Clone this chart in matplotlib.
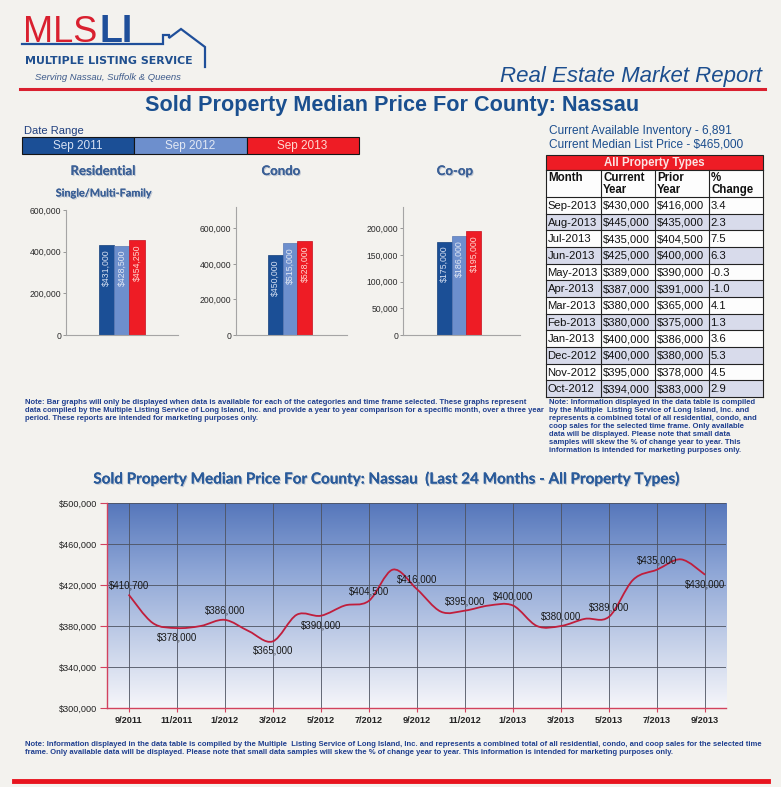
import matplotlib
matplotlib.use("Agg")
import matplotlib.pyplot as plt
import matplotlib.patheffects as pe
import numpy as np
from matplotlib import font_manager
from matplotlib.colors import LinearSegmentedColormap
from matplotlib.patches import Rectangle, PathPatch
from matplotlib.path import Path
from matplotlib.ticker import FuncFormatter

# ---- data ----
range_labels = ["Sep 2011", "Sep 2012", "Sep 2013"]
range_colors = ["#1b4f96", "#6d8fcd", "#ee1c25"]
range_text = ["#d6e0f2", "#e2e8f4", "#ffd9d2"]

residential = [431000, 428500, 454250]
condo = [450000, 515000, 528000]
coop = [175000, 186000, 195000]

inventory = 6891
median_list_price = 465000

table_months = ["Sep-2013", "Aug-2013", "Jul-2013", "Jun-2013", "May-2013", "Apr-2013",
                "Mar-2013", "Feb-2013", "Jan-2013", "Dec-2012", "Nov-2012", "Oct-2012"]
current_year = [430000, 445000, 435000, 425000, 389000, 387000,
                380000, 380000, 400000, 400000, 395000, 394000]
prior_year = [416000, 435000, 404500, 400000, 390000, 391000,
              365000, 375000, 386000, 380000, 378000, 383000]
pct_change = [3.4, 2.3, 7.5, 6.3, -0.3, -1.0, 4.1, 1.3, 3.6, 5.3, 4.5, 2.9]

line_months = ["9/2011", "10/2011", "11/2011", "12/2011", "1/2012", "2/2012", "3/2012",
               "4/2012", "5/2012", "6/2012", "7/2012", "8/2012", "9/2012", "10/2012",
               "11/2012", "12/2012", "1/2013", "2/2013", "3/2013", "4/2013", "5/2013",
               "6/2013", "7/2013", "8/2013", "9/2013"]
line_values = [410700, 383000, 378000, 380000, 386000, 375000, 365000,
               391000, 390000, 400000, 404500, 435000, 416000, 394000,
               395000, 400000, 400000, 380000, 380000, 387000, 389000,
               425000, 435000, 445000, 430000]
# label above (+1) or below (-1) for every second month
label_side = [1, -1, 1, -1, -1, 1, 1, 1, 1, 1, 1, 1, -1]

note_bars = ("Note: Bar graphs will only be displayed when data is available for each of the categories and time frame selected. These graphs represent\n"
             "data compiled by the Multiple Listing Service of Long Island, Inc. and provide a year to year comparison for a specific month, over a three year\n"
             "period. These reports are intended for marketing purposes only.")
note_table = ("Note: Information displayed in the data table is compiled\n"
              "by the Multiple  Listing Service of Long Island, Inc. and\n"
              "represents a combined total of all residential, condo, and\n"
              "coop sales for the selected time frame. Only available\n"
              "data will be displayed. Please note that small data\n"
              "samples will skew the % of change year to year. This\n"
              "information is intended for marketing purposes only.")
note_line = ("Note: Information displayed in the data table is compiled by the Multiple  Listing Service of Long Island, Inc. and represents a combined total of all residential, condo, and coop sales for the selected time\n"
             "frame. Only available data will be displayed. Please note that small data samples will skew the % of change year to year. This information is intended for marketing purposes only.")

# ---- fonts ----
names = {f.name for f in font_manager.fontManager.ttflist}
NARROW = "Liberation Sans Narrow" if "Liberation Sans Narrow" in names else "Liberation Sans"
SANS = "Liberation Sans"
ROUND = "Lato"

W, H = 781, 787
BG = "#f3f2ee"
BLUE = "#1c4e8e"
RED = "#d9202f"

fig = plt.figure(figsize=(W / 100, H / 100), dpi=100, facecolor=BG)


def px_axes(x0, y0, x1, y1):
    return fig.add_axes([x0 / W, 1 - y1 / H, (x1 - x0) / W, (y1 - y0) / H])


# overlay in pixel coordinates for the page furniture
ov = fig.add_axes([0, 0, 1, 1])
ov.set_xlim(0, W)
ov.set_ylim(H, 0)
ov.axis("off")

# logo
ov.text(23, 42, "MLS", color=RED, fontsize=26, family=NARROW, va="baseline")
ov.text(99, 42, "LI", color="#1f4f9a", fontsize=27, family=SANS, weight="bold", va="baseline")
ov.plot([22, 163, 163, 169, 169, 181, 205, 205], [44, 44, 35, 35, 38, 29, 47, 67],
        color="#1f4f9a", lw=1.6, solid_joinstyle="miter")
ov.text(25, 61, "MULTIPLE LISTING SERVICE", color="#1f4f8f", fontsize=7.9,
        family="DejaVu Sans", weight="bold", va="center")
ov.text(35, 77, "Serving Nassau, Suffolk & Queens", color="#3d5a8a", fontsize=6.8,
        family=SANS, style="italic", va="center")
ov.plot([20, 765], [89, 89], color=RED, lw=2.2)
ov.text(762, 82, "Real Estate Market Report", color=BLUE, fontsize=16, family=SANS,
        style="italic", ha="right", va="baseline")

shadow = [pe.withSimplePatchShadow(offset=(0.8, -0.8), shadow_rgbFace="#a9b4c6", alpha=0.7), pe.Normal()]
ov.text(392, 106, "Sold Property Median Price For County: Nassau", ha="center", va="center",
        fontsize=15.6, weight="bold", color="#1a4f8f", family=SANS)

# date range legend
ov.text(24, 131, "Date Range", fontsize=8, family=SANS, color="#1f3f7f", va="center")
for i, (lab, col, tcol) in enumerate(zip(range_labels, range_colors, range_text)):
    x0 = 22 + i * 112.3
    ov.add_patch(Rectangle((x0, 137), 112.3, 16.5, facecolor=col, edgecolor="#151515", lw=0.8))
    ov.text(x0 + 56, 145.5, lab, ha="center", va="center", fontsize=8.5, family=SANS, color=tcol)

# panel headings
for x, lab in [(103, "Residential"), (281, "Condo"), (455, "Co-op")]:
    ov.text(x, 171, lab, ha="center", va="center", fontsize=9.5, weight="bold",
            family=ROUND, color="#3b6096", path_effects=shadow)
ov.text(104, 193, "Single/Multi-Family", ha="center", va="center", fontsize=7.8,
        weight="bold", family=ROUND, color="#3b6096", path_effects=shadow)


def bar_panel(x0, x1, ytop, values, ymax, step, pad, bw=15.0):
    ax = px_axes(x0, ytop, x1, 335)
    ax.set_facecolor("none")
    idx = np.arange(len(values))
    ax.bar(idx, values, width=1.0, color=range_colors, edgecolor=["#143f7a", "#5a79b4", "#c5101c"],
           linewidth=0.5)
    for i, v in enumerate(values):
        ax.annotate(f"${v:,.0f}", (i, v), xytext=(0, -3), textcoords="offset points",
                    rotation=90, ha="center", va="top", fontsize=6.3, family=NARROW,
                    color=range_text[i])
    ax.set_xlim(-0.5 - pad / bw, -0.5 + (x1 - x0 - pad) / bw)
    ax.set_ylim(0, ymax)
    ax.set_yticks(np.arange(0, ymax + 1, step))
    ax.yaxis.set_major_formatter(FuncFormatter(lambda v, p: f"{v:,.0f}"))
    ax.set_xticks([])
    for s in ["top", "right"]:
        ax.spines[s].set_visible(False)
    for s in ["left", "bottom"]:
        ax.spines[s].set_color("#a5a5a5")
        ax.spines[s].set_linewidth(0.8)
    ax.tick_params(axis="y", length=2, width=0.6, color="#888888", labelsize=6.2,
                   labelcolor="#2a2a2a", pad=1.5)
    for t in ax.get_yticklabels():
        t.set_family(NARROW)
    return ax


bar_panel(66, 178, 210, residential, 600000, 200000, 33, 15.2)
bar_panel(236, 347, 207, condo, 720000, 200000, 32, 14.7)
bar_panel(403, 520, 207, coop, 240000, 50000, 34, 14.7)

# inventory text
ov.text(549, 131, f"Current Available Inventory - {inventory:,}", fontsize=8.6, family=SANS,
        color=BLUE, va="center")
ov.text(549, 144.5, f"Current Median List Price - ${median_list_price:,}", fontsize=8.6,
        family=SANS, color=BLUE, va="center")

# data table
cols = [546, 601, 655, 709, 763]
top, head_bot, col_bot = 155, 170, 197
row_h = (397 - col_bot) / len(table_months)
ov.add_patch(Rectangle((cols[0], top), cols[-1] - cols[0], head_bot - top,
                       facecolor="#ee1c25", edgecolor="#222222", lw=0.8))
ov.text((cols[0] + cols[-1]) / 2, (top + head_bot) / 2 + 0.5, "All Property Types", ha="center",
        va="center", fontsize=8.3, weight="bold", family=SANS, color="#fbe3e3")
ov.add_patch(Rectangle((cols[0], head_bot), cols[-1] - cols[0], col_bot - head_bot,
                       facecolor="#fdfdfd", edgecolor="none"))
for j, h in enumerate(["Month", "Current\nYear", "Prior\nYear", "%\nChange"]):
    ov.text(cols[j] + 2, head_bot + 2, h, ha="left", va="top", fontsize=8.3, weight="bold",
            family=SANS, color="#111111", linespacing=1.0)
for i, m in enumerate(table_months):
    y0 = col_bot + i * row_h
    fc = "#d8dbeb" if i % 2 else "#fdfdfd"
    ov.add_patch(Rectangle((cols[0], y0), cols[-1] - cols[0], row_h, facecolor=fc, edgecolor="none"))
    cells = [m, f"${current_year[i]:,}", f"${prior_year[i]:,}", f"{pct_change[i]:.1f}"]
    for j, c in enumerate(cells):
        ov.text(cols[j] + 1.5, y0 + row_h / 2 + 0.5, c, ha="left", va="center", fontsize=8.1,
                family=SANS, color="#111111")
for x in cols:
    ov.plot([x, x], [head_bot, 397], color="#222222", lw=0.8)
for y in [head_bot, col_bot] + [col_bot + i * row_h for i in range(1, len(table_months) + 1)]:
    ov.plot([cols[0], cols[-1]], [y, y], color="#222222", lw=0.8)

# notes
note_kw = dict(fontsize=5.5, family=NARROW, weight="bold", color="#1f3f8f", va="top",
               linespacing=1.18)
ov.text(25, 399, note_bars, **note_kw)
ov.text(549, 399.5, note_table, **note_kw)
ov.text(25, 741, note_line, **note_kw)

# line chart
ov.text(386, 479, "Sold Property Median Price For County: Nassau  (Last 24 Months - All Property Types)",
        ha="center", va="center", fontsize=11, weight="bold", family=ROUND, color="#2a5b9a",
        path_effects=shadow)

ax = px_axes(107, 503, 726, 708)
x_lo, x_hi = -0.9, 24.87
ax.set_xlim(x_lo, x_hi)
ax.set_ylim(300000, 500000)
cmap = LinearSegmentedColormap.from_list("sky", ["#f6f6fa", "#c3cfe8", "#8ea6d6", "#5677bb"])
ax.imshow(np.linspace(0, 1, 256).reshape(-1, 1), extent=[x_lo, x_hi, 300000, 500000],
          aspect="auto", cmap=cmap, origin="lower", zorder=0)

xs = np.arange(len(line_values))
ys = np.array(line_values, dtype=float)
verts = [(xs[0], ys[0])]
codes = [Path.MOVETO]
n = len(xs)
for i in range(n - 1):
    a = max(i - 1, 0)
    b = min(i + 2, n - 1)
    c1 = (xs[i] + (xs[i + 1] - xs[a]) / 6, ys[i] + (ys[i + 1] - ys[a]) / 6)
    c2 = (xs[i + 1] - (xs[b] - xs[i]) / 6, ys[i + 1] - (ys[b] - ys[i]) / 6)
    verts += [c1, c2, (xs[i + 1], ys[i + 1])]
    codes += [Path.CURVE4] * 3
ax.add_patch(PathPatch(Path(verts, codes), fill=False, edgecolor="#c01e3c", lw=1.3, zorder=3))

for k, i in enumerate(range(0, n, 2)):
    ax.annotate(f"${line_values[i]:,.0f}", (i, line_values[i]), xytext=(0, 6.8 * label_side[k]),
                textcoords="offset points", ha="center", va="center", fontsize=7,
                family=NARROW, color="#1a1a1a", zorder=4)

ax.set_xticks(xs[::2])
ax.set_xticklabels(line_months[::2])
ax.set_yticks(np.arange(300000, 500001, 40000))
ax.yaxis.set_major_formatter(FuncFormatter(lambda v, p: f"${v:,.0f}"))
ax.grid(True, color="#4d5260", lw=0.6)
for s in ["top", "right"]:
    ax.spines[s].set_visible(False)
for s in ["left", "bottom"]:
    ax.spines[s].set_color("#d2425e")
    ax.spines[s].set_linewidth(1.0)
ax.tick_params(axis="y", length=5, width=0.8, color="#d2425e", labelsize=6.6,
               labelcolor="#222222", pad=2)
ax.tick_params(axis="x", length=3, width=0.8, color="#d2425e", labelsize=6.6,
               labelcolor="#222222", pad=3)
for t in ax.get_yticklabels():
    t.set_family(NARROW)
for t in ax.get_xticklabels():
    t.set_family(NARROW)
    t.set_weight("bold")

ov.plot([14, 768], [781, 781], color="#e8141e", lw=3.5)

fig.savefig("out.png", dpi=100, facecolor=BG)
